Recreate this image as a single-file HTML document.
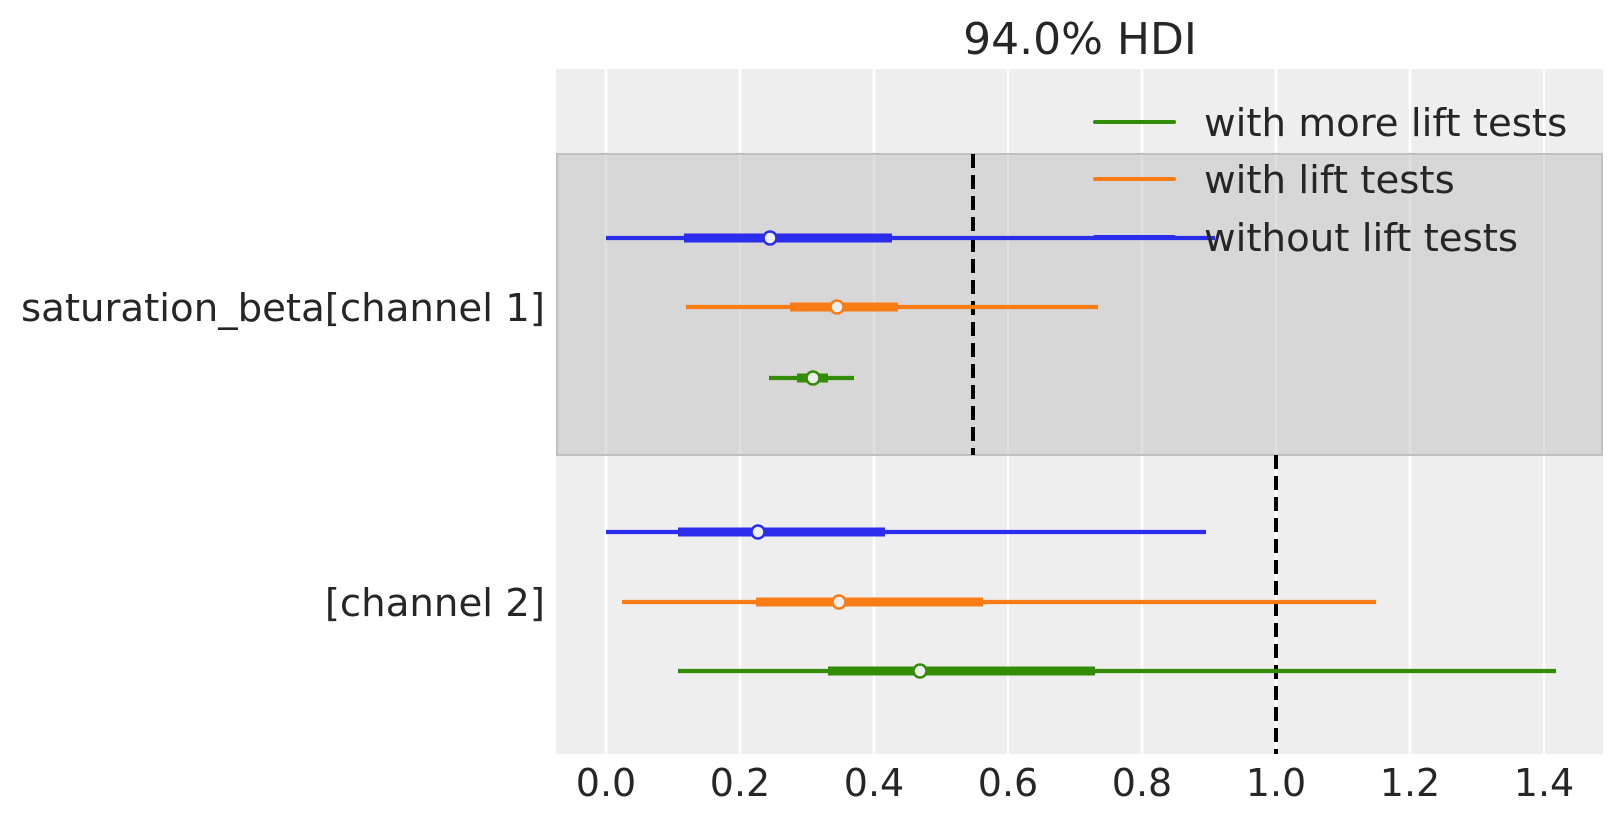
<!DOCTYPE html>
<html><head><meta charset="utf-8"><style>html,body{margin:0;padding:0;background:#fff}</style></head>
<body>
<svg width="1623" height="823" xmlns="http://www.w3.org/2000/svg" font-family="DejaVu Sans, Liberation Sans, sans-serif" fill="#262626">
<rect x="556" y="69" width="1047" height="685" fill="#eeeeee"/>
<g stroke="#ffffff" stroke-width="2.5">
<line x1="606" y1="69" x2="606" y2="754"/><line x1="740" y1="69" x2="740" y2="754"/>
<line x1="874" y1="69" x2="874" y2="754"/><line x1="1008" y1="69" x2="1008" y2="754"/>
<line x1="1142" y1="69" x2="1142" y2="754"/><line x1="1276" y1="69" x2="1276" y2="754"/>
<line x1="1410" y1="69" x2="1410" y2="754"/><line x1="1544" y1="69" x2="1544" y2="754"/>
</g>
<rect x="557" y="154" width="1045" height="301" fill="#c4c4c4" fill-opacity="0.55" stroke="#c0c0c0" stroke-width="2"/>
<g stroke="#000" stroke-width="4" stroke-dasharray="14,7">
<line x1="973" y1="154" x2="973" y2="455"/>
<line x1="1276" y1="455" x2="1276" y2="754"/>
</g>
<g stroke-width="4.3">
<line x1="606" y1="238" x2="1215" y2="238" stroke="#2a2eec"/>
<line x1="684" y1="238" x2="892" y2="238" stroke="#2a2eec" stroke-width="9"/>
<line x1="686" y1="307" x2="1098" y2="307" stroke="#fa7c17"/>
<line x1="790" y1="307" x2="898" y2="307" stroke="#fa7c17" stroke-width="9"/>
<line x1="769" y1="378" x2="854" y2="378" stroke="#328c06"/>
<line x1="797" y1="378" x2="828" y2="378" stroke="#328c06" stroke-width="9"/>
<line x1="606" y1="532" x2="1206" y2="532" stroke="#2a2eec"/>
<line x1="678" y1="532" x2="885" y2="532" stroke="#2a2eec" stroke-width="9"/>
<line x1="622" y1="602" x2="1376" y2="602" stroke="#fa7c17"/>
<line x1="756" y1="602" x2="983" y2="602" stroke="#fa7c17" stroke-width="9"/>
<line x1="678" y1="671" x2="1556" y2="671" stroke="#328c06"/>
<line x1="828" y1="671" x2="1095" y2="671" stroke="#328c06" stroke-width="9"/>
</g>
<g fill="#eeeeee" stroke-width="2.5">
<circle cx="770" cy="238" r="6.5" stroke="#2a2eec"/>
<circle cx="837" cy="307" r="6.5" stroke="#fa7c17"/>
<circle cx="813" cy="378" r="6.5" stroke="#328c06"/>
<circle cx="758" cy="532" r="6.5" stroke="#2a2eec"/>
<circle cx="839" cy="602" r="6.5" stroke="#fa7c17"/>
<circle cx="920" cy="671" r="6.5" stroke="#328c06"/>
</g>
<g stroke-width="4" stroke-linecap="round">
<line x1="1095" y1="122" x2="1174" y2="122" stroke="#328c06"/>
<line x1="1095" y1="179" x2="1174" y2="179" stroke="#fa7c17"/>
<line x1="1095" y1="237" x2="1174" y2="237" stroke="#2a2eec"/>
</g>
<g font-size="38.7">
<text x="1204" y="136">with more lift tests</text>
<text x="1204" y="193">with lift tests</text>
<text x="1204" y="251">without lift tests</text>
</g>
<text x="1080" y="54" font-size="44" text-anchor="middle">94.0% HDI</text>
<g font-size="38.7" text-anchor="end">
<text x="545" y="321">saturation_beta[channel 1]</text>
<text x="545" y="616">[channel 2]</text>
</g>
<g font-size="38" text-anchor="middle">
<text x="606" y="796">0.0</text><text x="740" y="796">0.2</text><text x="874" y="796">0.4</text>
<text x="1008" y="796">0.6</text><text x="1142" y="796">0.8</text><text x="1276" y="796">1.0</text>
<text x="1410" y="796">1.2</text><text x="1544" y="796">1.4</text>
</g>
</svg>
</body></html>
